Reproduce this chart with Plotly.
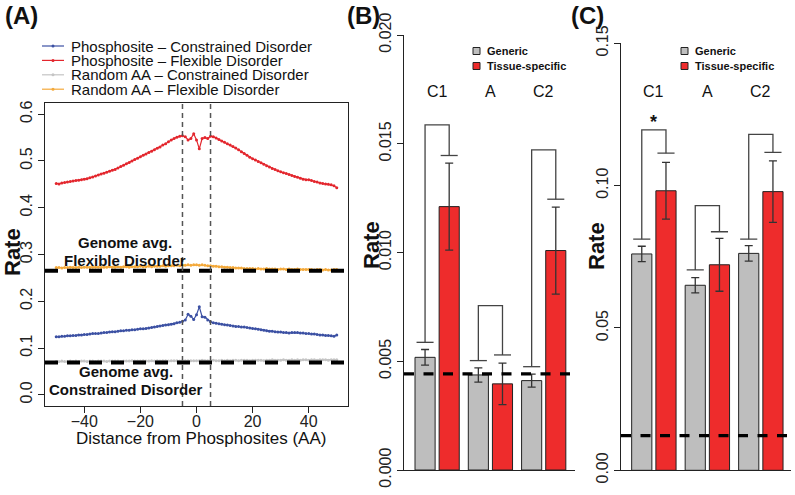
import plotly.graph_objects as go

W, H = 795, 495
FONT = "Liberation Sans, Arial, sans-serif"

# ---- Panel A: rate around phosphosites ----
distance = list(range(-50, 51))
phos_flexible = [
    0.452, 0.451, 0.453, 0.454, 0.455, 0.456, 0.457, 0.458, 0.459, 0.460,
    0.461, 0.462, 0.464, 0.466, 0.468, 0.470, 0.472, 0.474, 0.476, 0.478,
    0.480, 0.482, 0.485, 0.488, 0.491, 0.494, 0.497, 0.500, 0.503, 0.506,
    0.509, 0.512, 0.515, 0.518, 0.521, 0.524, 0.527, 0.530, 0.534, 0.537,
    0.541, 0.545, 0.548, 0.551, 0.553, 0.554, 0.552, 0.545, 0.548, 0.558,
    0.545, 0.526, 0.548, 0.550, 0.548, 0.553, 0.552, 0.549, 0.546, 0.543,
    0.540, 0.537, 0.534, 0.531, 0.528, 0.524, 0.520, 0.516, 0.512, 0.508,
    0.505, 0.502, 0.499, 0.496, 0.493, 0.490, 0.487, 0.484, 0.482, 0.479,
    0.477, 0.475, 0.473, 0.471, 0.469, 0.467, 0.465, 0.463, 0.461, 0.460,
    0.460, 0.458, 0.456, 0.455, 0.453, 0.452, 0.451, 0.450, 0.449, 0.447,
    0.443,
]
phos_constrained = [
    0.124, 0.124, 0.125, 0.125, 0.126, 0.126, 0.127, 0.127, 0.128, 0.128,
    0.129, 0.129, 0.130, 0.131, 0.131, 0.131, 0.132, 0.133, 0.133, 0.134,
    0.135, 0.135, 0.136, 0.137, 0.137, 0.138, 0.138, 0.139, 0.139, 0.140,
    0.141, 0.141, 0.142, 0.143, 0.144, 0.145, 0.146, 0.147, 0.148, 0.149,
    0.150, 0.151, 0.152, 0.154, 0.155, 0.157, 0.160, 0.172, 0.168, 0.161,
    0.171, 0.188, 0.167, 0.166, 0.160, 0.156, 0.154, 0.153, 0.152, 0.151,
    0.150, 0.149, 0.148, 0.147, 0.146, 0.146, 0.145, 0.145, 0.144, 0.143,
    0.142, 0.141, 0.140, 0.139, 0.138, 0.137, 0.136, 0.136, 0.135, 0.134,
    0.134, 0.133, 0.133, 0.132, 0.133, 0.133, 0.133, 0.132, 0.132, 0.131,
    0.131, 0.130, 0.130, 0.129, 0.128, 0.128, 0.127, 0.127, 0.126, 0.125,
    0.128,
]
rand_constrained = [
    0.071, 0.071, 0.072, 0.071, 0.071, 0.072, 0.071, 0.072, 0.071, 0.072,
    0.072, 0.071, 0.072, 0.072, 0.071, 0.072, 0.072, 0.072, 0.071, 0.072,
    0.072, 0.072, 0.072, 0.071, 0.072, 0.072, 0.072, 0.073, 0.072, 0.072,
    0.072, 0.073, 0.072, 0.072, 0.073, 0.072, 0.073, 0.072, 0.073, 0.073,
    0.072, 0.073, 0.073, 0.073, 0.072, 0.073, 0.073, 0.073, 0.073, 0.073,
    0.073, 0.073, 0.074, 0.073, 0.073, 0.073, 0.074, 0.073, 0.073, 0.074,
    0.073, 0.074, 0.073, 0.074, 0.074, 0.073, 0.074, 0.074, 0.074, 0.073,
    0.074, 0.074, 0.074, 0.074, 0.073, 0.074, 0.074, 0.075, 0.074, 0.074,
    0.074, 0.075, 0.074, 0.074, 0.075, 0.074, 0.075, 0.074, 0.075, 0.075,
    0.074, 0.075, 0.075, 0.074, 0.075, 0.075, 0.075, 0.074, 0.075, 0.075,
    0.075,
]
rand_flexible = [
    0.272, 0.272, 0.271, 0.272, 0.272, 0.273, 0.272, 0.272, 0.273, 0.272,
    0.273, 0.273, 0.272, 0.273, 0.273, 0.273, 0.272, 0.273, 0.273, 0.274,
    0.273, 0.273, 0.274, 0.273, 0.274, 0.274, 0.273, 0.274, 0.274, 0.274,
    0.275, 0.274, 0.274, 0.275, 0.274, 0.275, 0.275, 0.275, 0.276, 0.275,
    0.276, 0.276, 0.276, 0.277, 0.276, 0.277, 0.277, 0.278, 0.277, 0.278,
    0.278, 0.277, 0.278, 0.277, 0.276, 0.276, 0.275, 0.275, 0.274, 0.274,
    0.273, 0.273, 0.272, 0.272, 0.271, 0.271, 0.271, 0.270, 0.270, 0.270,
    0.270, 0.269, 0.270, 0.269, 0.269, 0.270, 0.269, 0.269, 0.269, 0.268,
    0.269, 0.269, 0.268, 0.269, 0.268, 0.268, 0.269, 0.268, 0.268, 0.268,
    0.268, 0.268, 0.267, 0.268, 0.268, 0.267, 0.268, 0.267, 0.267, 0.268,
    0.268,
]
genome_avg_flexible = 0.265
genome_avg_constrained = 0.069
window_edges = [-5, 5]

series_a = [
    ("Phosphosite \u2013 Constrained Disorder", phos_constrained, "#3B50A3"),
    ("Phosphosite \u2013 Flexible Disorder", phos_flexible, "#E3262D"),
    ("Random AA \u2013 Constrained Disorder", rand_constrained, "#C4C4C4"),
    ("Random AA \u2013 Flexible Disorder", rand_flexible, "#F4A93A"),
]

# ---- Panels B and C: generic vs tissue-specific ----
groups = ["C1", "A", "C2"]
b_generic = [0.00518, 0.00437, 0.00411]
b_generic_err = [0.00036, 0.00033, 0.00030]
b_tissue = [0.01211, 0.00396, 0.01009]
b_tissue_err = [0.00200, 0.00095, 0.00200]
b_bracket_left = [0.00587, 0.00503, 0.00475]
b_bracket_top = [0.01587, 0.00756, 0.01472]
b_bracket_right = [0.01446, 0.00529, 0.01245]
b_genome_avg = 0.00442

c_generic = [0.0760, 0.0650, 0.0762]
c_generic_err = [0.0027, 0.0027, 0.0027]
c_tissue = [0.0982, 0.0722, 0.0979]
c_tissue_err = [0.0100, 0.0093, 0.0108]
c_bracket_left = [0.0812, 0.0704, 0.0812]
c_bracket_top = [0.1196, 0.0930, 0.1180]
c_bracket_right = [0.1114, 0.0838, 0.1117]
c_genome_avg = 0.0122
c_significant = [True, False, False]

GRAY = "#BEBEBE"
RED = "#EE2C2C"
BAR_W = 0.3774
OFFSET = 0.2264
CAP = 0.16


def px(x):
    return x / W


def py(y):
    return 1 - y / H


fig = go.Figure()

# Panel A lines
for name, vals, colour in series_a:
    fig.add_trace(go.Scatter(
        x=distance, y=vals, mode="lines+markers", name=name,
        line=dict(color=colour, width=1.2),
        marker=dict(color=colour, size=3),
        xaxis="x", yaxis="y", showlegend=False,
    ))


def add_bar_panel(xa, ya, generic, generic_err, tissue, tissue_err,
                  b_left, b_top, b_right):
    gx = [i - OFFSET for i in range(len(groups))]
    tx = [i + OFFSET for i in range(len(groups))]
    fig.add_trace(go.Bar(
        x=gx, y=generic, width=BAR_W, name="Generic",
        marker=dict(color=GRAY, line=dict(color="#222", width=1)),
        error_y=dict(type="data", array=generic_err, width=4,
                     thickness=1.3, color="#333"),
        xaxis=xa, yaxis=ya, showlegend=False,
    ))
    fig.add_trace(go.Bar(
        x=tx, y=tissue, width=BAR_W, name="Tissue-specific",
        marker=dict(color=RED, line=dict(color="#222", width=1)),
        error_y=dict(type="data", array=tissue_err, width=4,
                     thickness=1.3, color="#333"),
        xaxis=xa, yaxis=ya, showlegend=False,
    ))
    # comparison brackets
    bx, by = [], []
    for g, t, yl, yt, yr in zip(gx, tx, b_left, b_top, b_right):
        bx += [g - CAP, g + CAP, None, g, g, t, t, None, t - CAP, t + CAP, None]
        by += [yl, yl, None, yl, yt, yt, yr, None, yr, yr, None]
    fig.add_trace(go.Scatter(
        x=bx, y=by, mode="lines", line=dict(color="#444", width=1.3),
        xaxis=xa, yaxis=ya, showlegend=False, hoverinfo="skip",
    ))


add_bar_panel("x2", "y2", b_generic, b_generic_err, b_tissue, b_tissue_err,
              b_bracket_left, b_bracket_top, b_bracket_right)
add_bar_panel("x3", "y3", c_generic, c_generic_err, c_tissue, c_tissue_err,
              c_bracket_left, c_bracket_top, c_bracket_right)

shapes = []
thick_dash = dict(color="black", width=4, dash="13px,9px")
for yv in (genome_avg_flexible, genome_avg_constrained):
    shapes.append(dict(type="line", xref="x domain", yref="y", x0=0, x1=1,
                       y0=yv, y1=yv, line=thick_dash, layer="above"))
for xv in window_edges:
    shapes.append(dict(type="line", xref="x", yref="y domain", x0=xv, x1=xv,
                       y0=0, y1=1, line=dict(color="#555", width=1.5,
                                             dash="5px,4px")))
bar_dash = dict(color="black", width=3.3, dash="10px,9.5px")
shapes.append(dict(type="line", xref="x2 domain", yref="y2", x0=0, x1=1,
                   y0=b_genome_avg, y1=b_genome_avg, line=bar_dash,
                   layer="above"))
shapes.append(dict(type="line", xref="x3 domain", yref="y3", x0=0, x1=1,
                   y0=c_genome_avg, y1=c_genome_avg, line=bar_dash,
                   layer="above"))

annotations = []


def text(x, y, s, size, bold=False, anchor="center", angle=0, xref="paper"):
    annotations.append(dict(
        x=x, y=y, xref=xref, yref="paper", text=f"<b>{s}</b>" if bold else s,
        showarrow=False, xanchor=anchor, yanchor="middle", textangle=angle,
        font=dict(family=FONT, size=size, color="#111"),
    ))


# Panel A legend
for k, (name, vals, colour) in enumerate(series_a):
    yy = py(46 + k * 14.4)
    shapes.append(dict(type="line", xref="paper", yref="paper",
                       x0=px(42), x1=px(64), y0=yy, y1=yy,
                       line=dict(color=colour, width=1.2)))
    shapes.append(dict(type="circle", xref="paper", yref="paper",
                       x0=px(51.5), x1=px(54.5), y0=yy - 1.5 / H,
                       y1=yy + 1.5 / H, fillcolor=colour,
                       line=dict(color=colour, width=0)))
    text(px(69), yy, name, 15, anchor="left")

text(px(125), py(242), "Genome avg.", 15, bold=True)
text(px(125), py(260), "Flexible Disorder", 15, bold=True)
text(px(126), py(371), "Genome avg.", 15, bold=True)
text(px(126), py(389), "Constrained Disorder", 15, bold=True)
text(px(201), py(438), "Distance from Phosphosites (AA)", 17)

# Panel titles and y labels
text(px(21), py(16), "(A)", 24, bold=True)
text(px(363), py(16), "(B)", 24, bold=True)
text(px(587), py(16), "(C)", 24, bold=True)
text(px(13), py(252), "Rate", 22, bold=True, angle=-90)
text(px(371), py(245), "Rate", 22, bold=True, angle=-90)
text(px(596), py(246), "Rate", 22, bold=True, angle=-90)

# Bar panel legends and group labels
for xa, sq_x, signif in (("x2", 476.5, None), ("x3", 684.5, c_significant)):
    for k, (lab, col) in enumerate((("Generic", GRAY), ("Tissue-specific", RED))):
        yc = 51 + k * 15
        shapes.append(dict(type="rect", xref="paper", yref="paper",
                           x0=px(sq_x - 3.5), x1=px(sq_x + 3.5),
                           y0=py(yc + 3.5), y1=py(yc - 3.5), fillcolor=col,
                           line=dict(color="#222", width=1)))
        text(px(sq_x + 8), py(yc), lab, 11, bold=True, anchor="left")
    for i, g in enumerate(groups):
        text(i, py(92), g, 16, xref=xa)
        if signif and signif[i]:
            text(i, py(122), "*", 18, bold=True, xref=xa)

tick_font = dict(family=FONT, size=16, color="#222")
common_x = dict(showgrid=False, zeroline=False, automargin=False)
common_y = dict(showgrid=False, zeroline=False, automargin=False,
                tickangle=-90, ticks="outside", ticklen=6, tickwidth=1.2,
                tickcolor="#222", tickfont=tick_font, showline=True,
                linecolor="#222", linewidth=1.2)

fig.update_layout(
    width=W, height=H,
    margin=dict(l=0, r=0, t=0, b=0),
    paper_bgcolor="white", plot_bgcolor="white",
    showlegend=False, barmode="overlay",
    xaxis=dict(domain=[px(45), px(348)], range=[-54, 54], anchor="y",
               showline=True, mirror=True, linecolor="#222", linewidth=1.2,
               ticks="outside", ticklen=6, tickwidth=1.2, tickcolor="#222",
               ticklabelstandoff=-5,
               tickvals=[-40, -20, 0, 20, 40], tickfont=tick_font, **common_x),
    yaxis=dict(domain=[py(406), py(103)], range=[-0.024, 0.624], anchor="x",
               mirror=True, tickvals=[0, 0.1, 0.2, 0.3, 0.4, 0.5, 0.6],
               ticktext=["0.0", "0.1", "0.2", "0.3", "0.4", "0.5", "0.6"],
               **common_y),
    xaxis2=dict(domain=[px(404), px(575)], range=[-0.6215, 2.587],
                anchor="y2", showline=True, linecolor="#222", linewidth=1.2,
                showticklabels=False, ticks="", **common_x),
    yaxis2=dict(domain=[py(470), py(35)], range=[0, 0.02], anchor="x2",
                tickvals=[0, 0.005, 0.01, 0.015, 0.02],
                ticktext=["0.000", "0.005", "0.010", "0.015", "0.020"],
                **common_y),
    xaxis3=dict(domain=[px(621), px(791)], range=[-0.6147, 2.564],
                anchor="y3", showline=True, linecolor="#222", linewidth=1.2,
                showticklabels=False, ticks="", **common_x),
    yaxis3=dict(domain=[py(470.3), py(43.3)], range=[0, 0.15], anchor="x3",
                tickvals=[0, 0.05, 0.1, 0.15],
                ticktext=["0.00", "0.05", "0.10", "0.15"],
                **common_y),
    shapes=shapes,
    annotations=annotations,
)

# the page's default body margin would shift the 795x495 figure by 8px
fig.write_html("out.html", config={"displayModeBar": False},
               post_script="document.body.style.margin='0';")
